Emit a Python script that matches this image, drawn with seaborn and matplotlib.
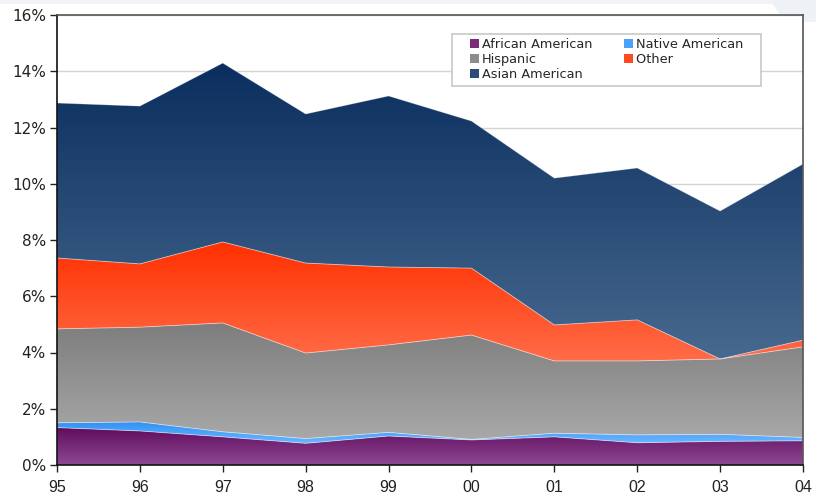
import numpy as np
import matplotlib
matplotlib.use("Agg")
import matplotlib.pyplot as plt
import seaborn as sns
from matplotlib.colors import LinearSegmentedColormap
from matplotlib.patches import Patch, Rectangle, Polygon
from matplotlib.legend_handler import HandlerPatch
from matplotlib.ticker import FuncFormatter

years = ["95", "96", "97", "98", "99", "00", "01", "02", "03", "04"]
african_american = [1.33, 1.21, 1.00, 0.77, 1.03, 0.89, 1.00, 0.79, 0.84, 0.86]
native_american = [0.17, 0.32, 0.18, 0.17, 0.13, 0.02, 0.13, 0.28, 0.25, 0.12]
hispanic = [3.34, 3.37, 3.87, 3.04, 3.11, 3.71, 2.57, 2.63, 2.68, 3.22]
other = [2.52, 2.25, 2.88, 3.20, 2.77, 2.38, 1.28, 1.46, 0.00, 0.24]
asian_american = [5.51, 5.61, 6.36, 5.30, 6.08, 5.23, 5.22, 5.40, 5.26, 6.26]

labels = ["African American", "Native American", "Hispanic", "Other", "Asian American"]
# (top colour, bottom colour) of each gradient fill
grads = [("#5e0c5c", "#8f4893"),
         ("#2e8ff5", "#6ab6ff"),
         ("#7d7d7d", "#a8a8a8"),
         ("#ff3000", "#ff6c48"),
         ("#0a2e5e", "#47698f")]
legend_colors = ["#7a2c78", "#4aa2fa", "#8c8c8c", "#ff4a22", "#2a4c78"]

sns.set_style("white")
plt.rcParams['font.family'] = ['DejaVu Sans']

fig = plt.figure(figsize=(8.16, 4.95), dpi=100)

# faint slide background at the very top
fig.add_artist(Rectangle((0, 1 - 4 / 495), 1, 4 / 495, transform=fig.transFigure,
                         facecolor="#f5f2f7", edgecolor="none", zorder=0))
fig.add_artist(Polygon([(770 / 816, 1), (1, 1), (1, 1 - 22 / 495), (785 / 816, 1 - 22 / 495)],
                       transform=fig.transFigure, facecolor="#eef1f5",
                       edgecolor="none", zorder=0))

ax = fig.add_axes([57 / 816, 30 / 495, 746 / 816, 450 / 495])

x = np.arange(len(years))
series = [african_american, native_american, hispanic, other, asian_american]
polys = ax.stackplot(x, *series, colors=[g[1] for g in grads], labels=labels,
                     edgecolor=(1, 1, 1, 0.3), linewidth=0.6, zorder=2)

grad = np.linspace(0, 1, 256).reshape(-1, 1)
for poly, (c_top, c_bot) in zip(polys, grads):
    path = poly.get_paths()[0]
    verts = path.vertices
    ymin, ymax = verts[:, 1].min(), verts[:, 1].max()
    poly.set_facecolor("none")
    if ymax - ymin < 1e-6:
        continue
    cmap = LinearSegmentedColormap.from_list("g", [c_bot, c_top])
    im = ax.imshow(grad, extent=[x[0], x[-1], ymin, ymax], origin="lower",
                   aspect="auto", cmap=cmap, zorder=1.9, interpolation="bilinear")
    im.set_clip_path(path, transform=ax.transData)

ax.set_xlim(x[0], x[-1])
ax.set_ylim(0, 16)
ax.set_yticks(np.arange(0, 17, 2))
ax.yaxis.set_major_formatter(FuncFormatter(lambda v, p: f"{v:.0f}%"))
ax.set_xticks(x)
ax.set_xticklabels(years, fontfamily="Liberation Sans", fontsize=11.5)
ax.tick_params(axis="y", labelsize=11, colors="#222222", length=5, width=1,
               direction="out", left=True, pad=3)
ax.tick_params(axis="x", colors="#222222", length=5, width=1,
               direction="out", bottom=True, pad=6)

ax.grid(True, axis="y", color="#d4d4d4", linewidth=1, zorder=0)
ax.set_axisbelow(True)
for side in ["left", "bottom"]:
    ax.spines[side].set_color("#111111")
    ax.spines[side].set_linewidth(1.2)
for side in ["top", "right"]:
    ax.spines[side].set_color("#555555")
    ax.spines[side].set_linewidth(1.2)


# small square marker sitting at the right end of a wider handle slot
def square_patch(legend, orig_handle, xdescent, ydescent, width, height, fontsize):
    s = 6.5
    return Rectangle((-xdescent + width - s, -ydescent + (height - s) / 2), s, s)


handles = [Patch(facecolor=c, edgecolor="none") for c in legend_colors]
order = [0, 2, 4, 1, 3]
leg_labels = [labels[i] + ("   " if i in (1, 3) else "") for i in order]
leg = ax.legend([handles[i] for i in order], leg_labels,
                handler_map={Patch: HandlerPatch(patch_func=square_patch)},
                ncol=2, loc="upper left", bbox_to_anchor=(0.5295, 0.958),
                fontsize=9.3, frameon=True, fancybox=False, framealpha=1,
                edgecolor="#c8c8c8", handlelength=1.74, handleheight=0.7,
                handletextpad=0.23, columnspacing=1.43, labelspacing=0.15,
                borderpad=0.35, borderaxespad=0)
leg.get_frame().set_linewidth(1.2)
leg.set_zorder(5)

fig.savefig("out.png", dpi=100)
